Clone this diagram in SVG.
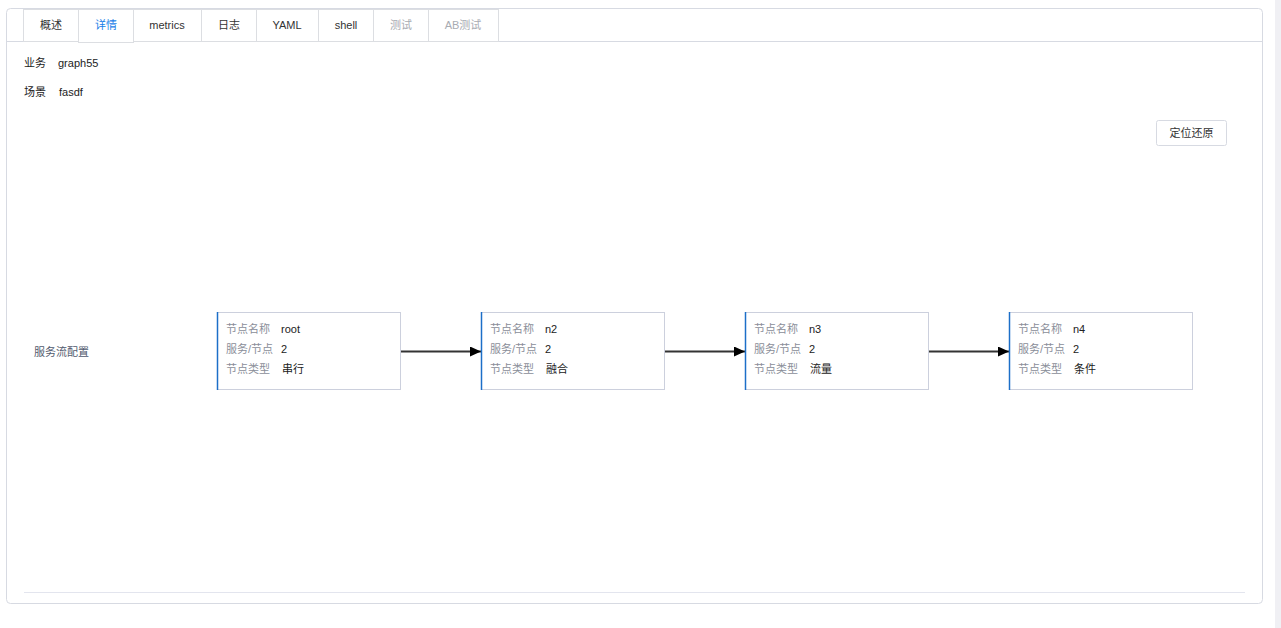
<svg xmlns="http://www.w3.org/2000/svg" width="1281" height="628" viewBox="0 0 1281 628">
<defs>
<style>
text{font-family:"Liberation Sans","Noto Sans CJK SC",sans-serif;font-size:11px}
.tab{fill:#fff;stroke:#dcdee2;stroke-width:1}
.tt{fill:#333;text-anchor:middle}
.dis{fill:#a8abb2}
.nb{fill:#fff;stroke:#ccd0dd;stroke-width:1}
.nl{stroke:#1c6fc8;stroke-width:1.5}
.lab{fill:#8a8e99}
.val{fill:#222}
.edge{stroke:#333;stroke-width:2;fill:none}
</style>
<marker id="ah" markerUnits="userSpaceOnUse" markerWidth="12" markerHeight="10" refX="11" refY="5" orient="auto">
<path d="M0,0 L11,5 L0,10 Z" fill="#000"/>
</marker>
</defs>
<rect width="1281" height="628" fill="#fff"/>
<rect x="1275" y="0" width="6" height="628" fill="#f0f0f4"/>
<g id="panel">
<rect x="6.5" y="8.5" width="1256" height="595" rx="4" fill="#fff" stroke="#d7dae2"/>
<line x1="6.5" y1="41.5" x2="1262.5" y2="41.5" stroke="#d7dae2"/>
<line x1="24" y1="592.5" x2="1245" y2="592.5" stroke="#e3e5ee"/>
</g>
<g id="tabs">
<rect class="tab" x="23.5" y="9.5" width="55" height="32"/>
<rect class="tab" x="78.5" y="9.5" width="55" height="33" stroke="none"/>
<path d="M78.5,41.5 V9.5 H133.5 V41.5" fill="none" stroke="#dcdee2"/>
<rect class="tab" x="133.5" y="9.5" width="68" height="32"/>
<rect class="tab" x="201.5" y="9.5" width="55" height="32"/>
<rect class="tab" x="256.5" y="9.5" width="62" height="32"/>
<rect class="tab" x="318.5" y="9.5" width="55" height="32"/>
<rect class="tab" x="373.5" y="9.5" width="55" height="32"/>
<rect class="tab" x="428.5" y="9.5" width="70" height="32"/>
<text class="tt" x="51" y="29">概述</text>
<text class="tt" x="106" y="29" style="fill:#1a7ee8">详情</text>
<text class="tt" x="167" y="29">metrics</text>
<text class="tt" x="229" y="29">日志</text>
<text class="tt" x="287" y="29">YAML</text>
<text class="tt" x="346" y="29">shell</text>
<text class="tt dis" x="401" y="29">测试</text>
<text class="tt dis" x="463" y="29">AB测试</text>
</g>
<g id="info">
<text x="24" y="67" fill="#222">业务</text>
<text x="58" y="67" fill="#222">graph55</text>
<text x="24" y="96" fill="#222">场景</text>
<text x="59" y="96" fill="#222">fasdf</text>
<text x="34" y="356" fill="#515a6e">服务流配置</text>
</g>
<g id="reset-button">
<rect x="1156.5" y="120.5" width="70" height="25" rx="2" fill="#fff" stroke="#d7dae2"/>
<text x="1191.5" y="137" text-anchor="middle" fill="#333">定位还原</text>
</g>
<g id="connectors">
<line class="edge" x1="401" y1="351.5" x2="481" y2="351.5" marker-end="url(#ah)"/>
<line class="edge" x1="665" y1="351.5" x2="745" y2="351.5" marker-end="url(#ah)"/>
<line class="edge" x1="929" y1="351.5" x2="1009" y2="351.5" marker-end="url(#ah)"/>
</g>
<g id="node-root">
<rect class="nb" x="217.5" y="312.5" width="183" height="77"/>
<line class="nl" x1="217.5" y1="312" x2="217.5" y2="390"/>
<text class="lab" x="226" y="333">节点名称</text><text class="val" x="281" y="333">root</text>
<text class="lab" x="226" y="353">服务/节点</text><text class="val" x="281" y="353">2</text>
<text class="lab" x="226" y="373">节点类型</text><text class="val" x="282" y="373">串行</text>
</g>
<g id="node-n2">
<rect class="nb" x="481.5" y="312.5" width="183" height="77"/>
<line class="nl" x1="481.5" y1="312" x2="481.5" y2="390"/>
<text class="lab" x="490" y="333">节点名称</text><text class="val" x="545" y="333">n2</text>
<text class="lab" x="490" y="353">服务/节点</text><text class="val" x="545" y="353">2</text>
<text class="lab" x="490" y="373">节点类型</text><text class="val" x="546" y="373">融合</text>
</g>
<g id="node-n3">
<rect class="nb" x="745.5" y="312.5" width="183" height="77"/>
<line class="nl" x1="745.5" y1="312" x2="745.5" y2="390"/>
<text class="lab" x="754" y="333">节点名称</text><text class="val" x="809" y="333">n3</text>
<text class="lab" x="754" y="353">服务/节点</text><text class="val" x="809" y="353">2</text>
<text class="lab" x="754" y="373">节点类型</text><text class="val" x="810" y="373">流量</text>
</g>
<g id="node-n4">
<rect class="nb" x="1009.5" y="312.5" width="183" height="77"/>
<line class="nl" x1="1009.5" y1="312" x2="1009.5" y2="390"/>
<text class="lab" x="1018" y="333">节点名称</text><text class="val" x="1073" y="333">n4</text>
<text class="lab" x="1018" y="353">服务/节点</text><text class="val" x="1073" y="353">2</text>
<text class="lab" x="1018" y="373">节点类型</text><text class="val" x="1074" y="373">条件</text>
</g>
</svg>
